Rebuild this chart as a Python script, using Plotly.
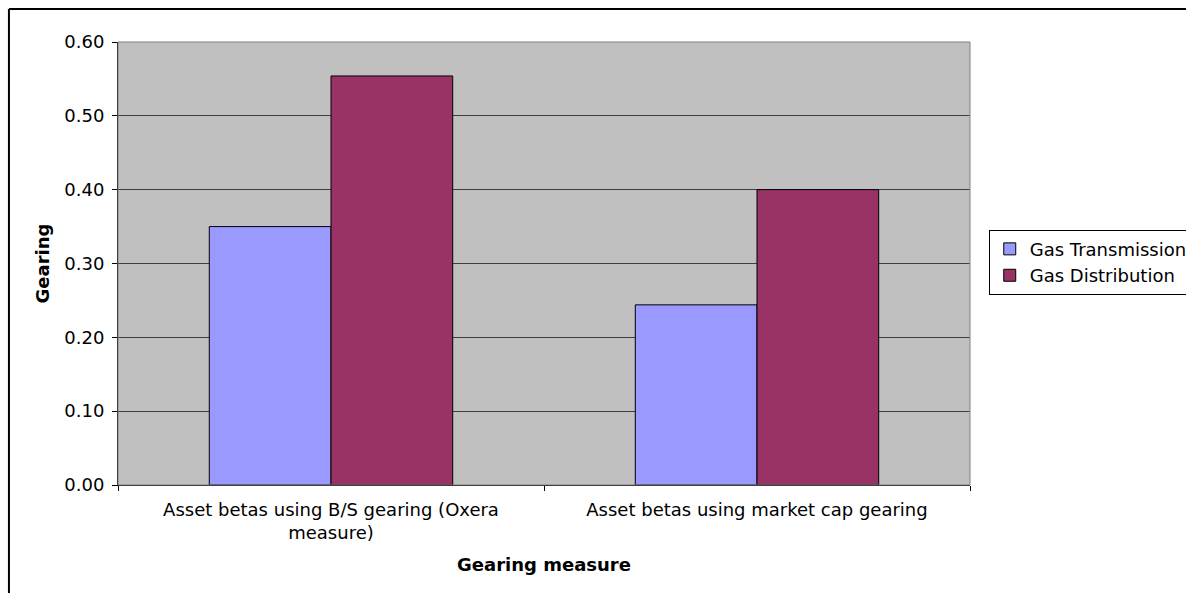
import plotly.graph_objects as go

categories = ["Asset betas using B/S gearing (Oxera<br>measure)",
              "Asset betas using market cap gearing"]
gas_transmission = [0.35, 0.244]
gas_distribution = [0.554, 0.40]
y_ticks = [0.0, 0.1, 0.2, 0.3, 0.4, 0.5, 0.6]
y_tick_labels = ["0.00", "0.10", "0.20", "0.30", "0.40", "0.50", "0.60"]

FONT = "DejaVu Sans"
FS = 18

fig = go.Figure()
fig.add_trace(go.Bar(name="Gas Transmission", x=categories, y=gas_transmission,
                     marker=dict(color="#9999FF", line=dict(color="#000000", width=1))))
fig.add_trace(go.Bar(name="Gas Distribution", x=categories, y=gas_distribution,
                     marker=dict(color="#993366", line=dict(color="#000000", width=1))))

fig.update_layout(
    width=1186, height=593,
    margin=dict(l=118, r=216, t=42, b=108, autoexpand=False),
    paper_bgcolor="white", plot_bgcolor="#C0C0C0",
    barmode="group", bargap=0.4286, bargroupgap=0,
    font=dict(family=FONT, size=FS, color="#000000"),
    showlegend=True,
    legend=dict(x=1.022, xanchor="left", y=0.503, yanchor="middle",
                bgcolor="white", bordercolor="#000000", borderwidth=1,
                font=dict(family=FONT, size=FS), itemwidth=30,
                tracegroupgap=0),
    shapes=[
        dict(type="rect", xref="paper", yref="paper", x0=0, x1=1, y0=0, y1=1,
             line=dict(color="#808080", width=1), fillcolor="rgba(0,0,0,0)", layer="above"),
        dict(type="line", xref="paper", yref="paper", x0=-0.128, x1=1.5, y0=1.0745, y1=1.0745,
             line=dict(color="#000000", width=2)),
        dict(type="line", xref="paper", yref="paper", x0=-0.128, x1=-0.128, y0=1.0745, y1=-0.5,
             line=dict(color="#000000", width=2)),
    ],
)

fig.update_xaxes(
    type="category", showgrid=False, tickson="boundaries",
    ticks="outside", ticklen=5, tickcolor="#000000",
    showline=True, linecolor="#000000", linewidth=1,
    tickfont=dict(family=FONT, size=FS), ticklabelstandoff=8,
    title=dict(text="<b>Gearing measure</b>", font=dict(family=FONT, size=FS), standoff=16),
)
fig.update_yaxes(
    range=[0, 0.6], tickvals=y_ticks, ticktext=y_tick_labels,
    showgrid=True, gridcolor="#404040", gridwidth=1,
    ticks="outside", ticklen=5, tickcolor="#000000",
    showline=True, linecolor="#000000", linewidth=1, zeroline=False,
    tickfont=dict(family=FONT, size=FS), ticklabelstandoff=4,
    title=dict(text="<b>Gearing</b>", font=dict(family=FONT, size=FS), standoff=10),
)

fig.write_html("out.html")
